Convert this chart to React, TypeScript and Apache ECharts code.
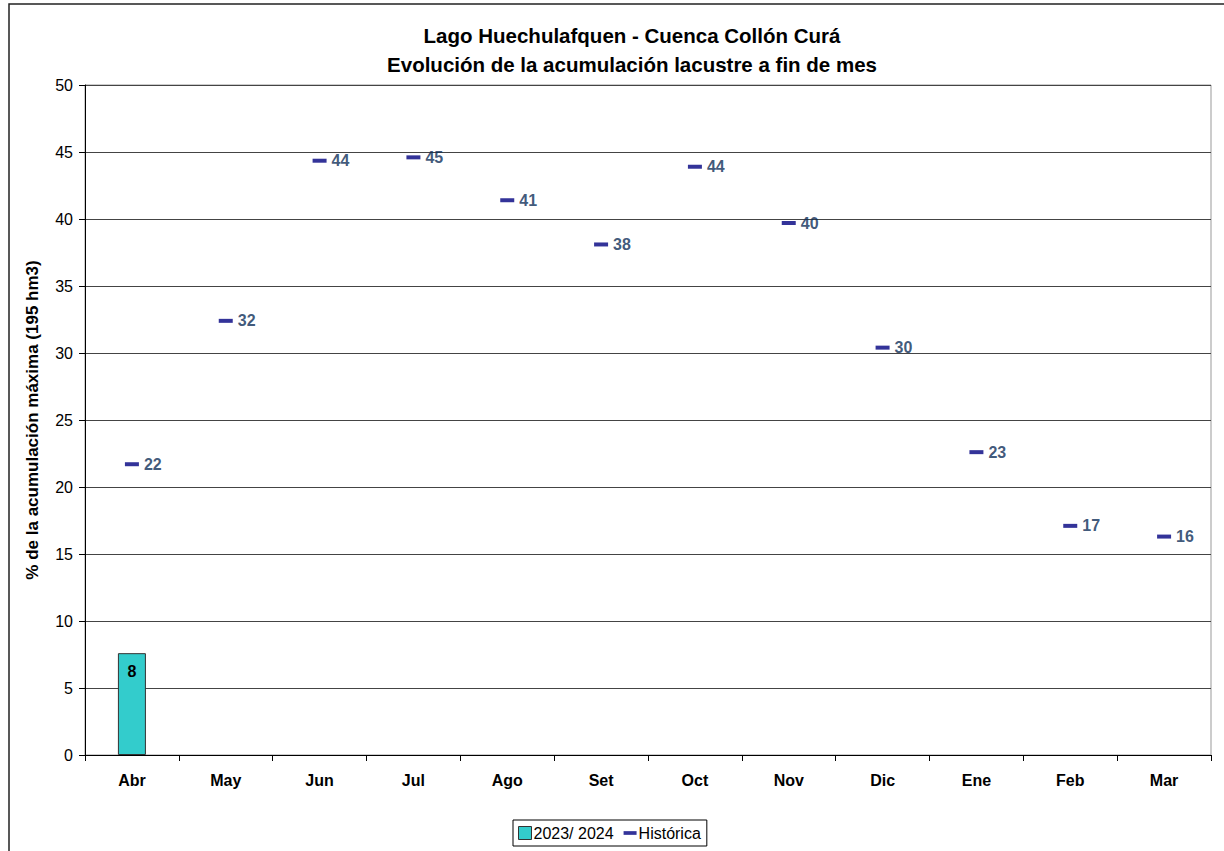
import React, { useEffect, useRef } from "react";
import * as echarts from "echarts";

const months = ["Abr", "May", "Jun", "Jul", "Ago", "Set", "Oct", "Nov", "Dic", "Ene", "Feb", "Mar"];
const actual: (number | null)[] = [7.6, null, null, null, null, null, null, null, null, null, null, null];
const historica = [21.7, 32.4, 44.35, 44.6, 41.4, 38.1, 43.9, 39.7, 30.4, 22.6, 17.1, 16.3];
const yTicks = { min: 0, max: 50, interval: 5 };
const titleLines = ["Lago Huechulafquen - Cuenca Collón Curá", "Evolución de la acumulación lacustre a fin de mes"];

const FONT = "'Liberation Sans', Arial, sans-serif";

export default function App() {
  const ref = useRef<HTMLDivElement>(null);
  useEffect(() => {
    if (!ref.current) return;
    const chart = echarts.init(ref.current, undefined, { renderer: "svg" });
    chart.setOption({
      animation: false,
      backgroundColor: "#fff",
      textStyle: { fontFamily: FONT },
      graphic: [
        {
          type: "rect",
          shape: { x: 9, y: 4, width: 1400, height: 1000 },
          style: { fill: "none", stroke: "#222", lineWidth: 1.5 },
          silent: true,
        },
        {
          type: "text",
          x: 632,
          y: 35,
          style: {
            text: titleLines[0],
            font: `bold 20.5px ${FONT}`,
            fill: "#000",
            textAlign: "center",
            textVerticalAlign: "middle",
          },
        },
        {
          type: "text",
          x: 632,
          y: 64,
          style: {
            text: titleLines[1],
            font: `bold 20.5px ${FONT}`,
            fill: "#000",
            textAlign: "center",
            textVerticalAlign: "middle",
          },
        },
      ],
      legend: {
        left: 513,
        top: 820,
        orient: "horizontal",
        borderColor: "#000",
        borderWidth: 1,
        padding: [5, 6, 5, 5],
        itemGap: 10,
        itemWidth: 13,
        itemHeight: 13,
        textStyle: { fontFamily: FONT, fontSize: 16, color: "#000", padding: [0, 0, 0, -3] },
        data: [
          { name: "2023/ 2024", icon: "rect", itemStyle: { color: "#33CCCC", borderColor: "#333", borderWidth: 1 } },
          { name: "Histórica", icon: "path://M0,0H14V4H0Z", itemStyle: { color: "#000080" } },
        ],
      },
      grid: {
        left: 85,
        top: 85,
        width: 1126,
        height: 670,
        show: true,
        borderColor: "#999",
        borderWidth: 1,
        backgroundColor: "transparent",
      },
      xAxis: {
        type: "category",
        data: months,
        boundaryGap: true,
        axisLine: { lineStyle: { color: "#000", width: 1 } },
        axisTick: { show: true, alignWithLabel: false, length: 6, lineStyle: { color: "#000" } },
        axisLabel: { fontFamily: FONT, fontSize: 16, fontWeight: "bold", color: "#000", margin: 17 },
        splitLine: { show: false },
      },
      yAxis: {
        type: "value",
        min: yTicks.min,
        max: yTicks.max,
        interval: yTicks.interval,
        name: "% de la acumulación máxima (195 hm3)",
        nameLocation: "middle",
        nameGap: 44,
        nameRotate: 90,
        nameTextStyle: { fontFamily: FONT, fontSize: 17, fontWeight: "bold", color: "#000" },
        axisLine: { show: true, lineStyle: { color: "#000", width: 1 } },
        axisTick: { show: true, length: 6, lineStyle: { color: "#000" } },
        axisLabel: { fontFamily: FONT, fontSize: 16, color: "#000", margin: 12 },
        splitLine: { show: true, lineStyle: { color: "#444", width: 1 } },
      },
      series: [
        {
          name: "2023/ 2024",
          type: "bar",
          data: actual,
          barWidth: 28,
          itemStyle: { color: "#33CCCC", borderColor: "#333", borderWidth: 1 },
          label: {
            show: true,
            position: "insideTop",
            distance: 10,
            fontFamily: FONT,
            fontSize: 16,
            fontWeight: "bold",
            color: "#000",
            formatter: (p: any) => String(Math.round(p.value)),
          },
          z: 2,
        },
        {
          name: "Histórica",
          type: "scatter",
          data: historica,
          symbol: "rect",
          symbolSize: [14, 4],
          itemStyle: { color: "#000080" },
          label: {
            show: true,
            position: "right",
            distance: 5,
            fontFamily: FONT,
            fontSize: 16,
            fontWeight: "bold",
            color: "#0E2E58",
            formatter: (p: any) => String(Math.round(p.value)),
          },
          z: 3,
        },
      ],
    });
    return () => chart.dispose();
  }, []);
  return (
    <div
      ref={ref}
      style={{ position: "absolute", left: 0, top: 0, width: 1224, height: 851 }}
    />
  );
}
